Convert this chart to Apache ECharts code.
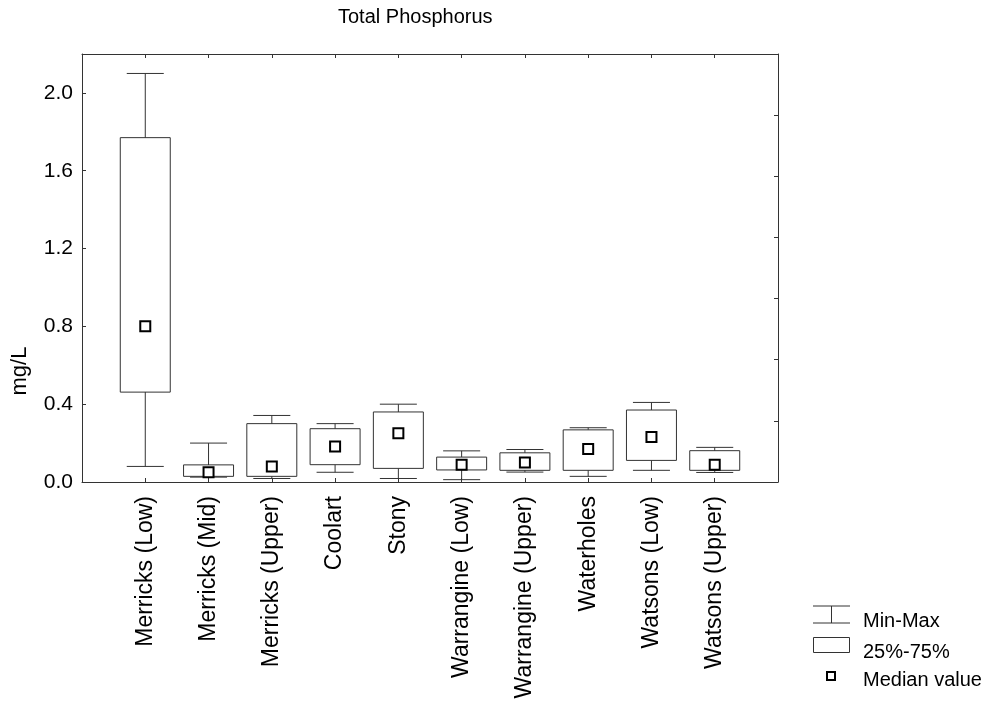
<!DOCTYPE html>
<html>
<head>
<meta charset="utf-8">
<script src="https://cdn.jsdelivr.net/npm/echarts@6/dist/echarts.min.js"></script>
<style>
html,body{margin:0;padding:0;background:#fff;}
#chart{width:991px;height:702px;}
</style>
</head>
<body>
<div id="chart"></div>
<script>
var categories = ['Merricks (Low)','Merricks (Mid)','Merricks (Upper)','Coolart','Stony','Warrangine (Low)','Warrangine (Upper)','Waterholes','Watsons (Low)','Watsons (Upper)'];
var minValues = [0.08, 0.025, 0.018, 0.05, 0.018, 0.012, 0.051, 0.029, 0.06, 0.049];
var q1Values = [0.462, 0.029, 0.029, 0.089, 0.07, 0.062, 0.06, 0.06, 0.111, 0.06];
var medianValues = [0.80, 0.05, 0.08, 0.183, 0.25, 0.089, 0.10, 0.17, 0.231, 0.089];
var q3Values = [1.77, 0.088, 0.30, 0.274, 0.36, 0.128, 0.15, 0.268, 0.37, 0.161];
var maxValues = [2.10, 0.20, 0.342, 0.30, 0.40, 0.16, 0.167, 0.279, 0.409, 0.178];
var yTicks = [0, 0.4, 0.8, 1.2, 1.6, 2.0];

var FONT = "'Liberation Sans', Arial, sans-serif";
var LINE = '#333';

var axisCats = [''].concat(categories).concat(['']);
var data = categories.map(function (c, i) {
  return [i + 1, minValues[i], q1Values[i], medianValues[i], q3Values[i], maxValues[i]];
});

function renderItem(params, api) {
  var x = api.value(0);
  var band = api.size([1, 0])[0];
  var pMin = api.coord([x, api.value(1)]);
  var pQ1 = api.coord([x, api.value(2)]);
  var pMed = api.coord([x, api.value(3)]);
  var pQ3 = api.coord([x, api.value(4)]);
  var pMax = api.coord([x, api.value(5)]);
  var cx = pMin[0];
  var boxW = band * 0.79;
  var capW = band * 0.585;
  var st = {stroke: LINE, lineWidth: 1, fill: null};
  return {
    type: 'group',
    children: [
      {type: 'line', shape: {x1: cx, y1: pMin[1], x2: cx, y2: pMax[1]}, style: st},
      {type: 'line', shape: {x1: cx - capW / 2, y1: pMin[1], x2: cx + capW / 2, y2: pMin[1]}, style: st},
      {type: 'line', shape: {x1: cx - capW / 2, y1: pMax[1], x2: cx + capW / 2, y2: pMax[1]}, style: st},
      {type: 'rect', shape: {x: cx - boxW / 2, y: pQ3[1], width: boxW, height: pQ1[1] - pQ3[1]},
        style: {stroke: LINE, lineWidth: 1, fill: '#fff'}},
      {type: 'rect', shape: {x: cx - 5, y: pMed[1] - 5, width: 10, height: 10},
        style: {stroke: '#000', lineWidth: 2, fill: '#fff'}}
    ]
  };
}

var chart = echarts.init(document.getElementById('chart'));
chart.setOption({
  backgroundColor: '#fff',
  animation: false,
  grid: {left: 82, top: 54, width: 696, height: 428, containLabel: false},
  xAxis: [
    {
      type: 'category', data: axisCats, boundaryGap: false, position: 'bottom',
      axisLine: {onZero: false, lineStyle: {color: LINE, width: 1}},
      axisTick: {inside: true, length: 4, lineStyle: {color: LINE}, interval: 0},
      axisLabel: {rotate: 90, interval: 0, margin: 14, color: '#000', fontSize: 23, fontFamily: FONT},
      splitLine: {show: false}
    },
    {
      type: 'category', data: axisCats, boundaryGap: false, position: 'top',
      axisLine: {onZero: false, lineStyle: {color: LINE, width: 1}},
      axisTick: {inside: true, length: 4, lineStyle: {color: LINE}, interval: 0},
      axisLabel: {show: false},
      splitLine: {show: false}
    }
  ],
  yAxis: [
    {
      type: 'value', min: 0, max: 2.2, interval: 0.4, position: 'left',
      axisLine: {show: true, onZero: false, lineStyle: {color: LINE, width: 1}},
      axisTick: {show: true, inside: true, length: 4, lineStyle: {color: LINE}},
      axisLabel: {
        margin: 9, color: '#000', fontSize: 21, fontFamily: FONT, showMaxLabel: false,
        formatter: function (v) { return yTicks.indexOf(Math.round(v * 10) / 10) >= 0 ? v.toFixed(1) : ''; }
      },
      splitLine: {show: false}
    },
    {
      type: 'value', min: 0, max: 7, interval: 1, position: 'right',
      axisLine: {show: true, onZero: false, lineStyle: {color: LINE, width: 1}},
      axisTick: {show: true, inside: true, length: 4, lineStyle: {color: LINE}},
      axisLabel: {show: false},
      splitLine: {show: false}
    }
  ],
  series: [{
    type: 'custom',
    xAxisIndex: 0, yAxisIndex: 0,
    renderItem: renderItem,
    encode: {x: 0, y: [1, 2, 3, 4, 5]},
    data: data,
    z: 5
  }],
  graphic: [
    {type: 'text', left: 338, top: 7, style: {text: 'Total Phosphorus', fontSize: 20, fontFamily: FONT, fill: '#000'}},
    {type: 'text', x: 20, y: 371, rotation: Math.PI / 2,
      style: {text: 'mg/L', fontSize: 22, fontFamily: FONT, fill: '#000', align: 'center', verticalAlign: 'middle'}},
    // legend
    {type: 'line', shape: {x1: 813, y1: 606, x2: 850, y2: 606}, style: {stroke: LINE, lineWidth: 1}},
    {type: 'line', shape: {x1: 813, y1: 623, x2: 850, y2: 623}, style: {stroke: LINE, lineWidth: 1}},
    {type: 'line', shape: {x1: 831.5, y1: 606, x2: 831.5, y2: 623}, style: {stroke: LINE, lineWidth: 1}},
    {type: 'text', x: 863, y: 621, style: {text: 'Min-Max', fontSize: 20, fontFamily: FONT, fill: '#000', verticalAlign: 'middle'}},
    {type: 'rect', shape: {x: 813.5, y: 637.5, width: 36, height: 15}, style: {stroke: LINE, lineWidth: 1, fill: '#fff'}},
    {type: 'text', x: 863, y: 652, style: {text: '25%-75%', fontSize: 20, fontFamily: FONT, fill: '#000', verticalAlign: 'middle'}},
    {type: 'rect', shape: {x: 827, y: 672, width: 8, height: 8}, style: {stroke: '#000', lineWidth: 2, fill: '#fff'}},
    {type: 'text', x: 863, y: 680, style: {text: 'Median value', fontSize: 20, fontFamily: FONT, fill: '#000', verticalAlign: 'middle'}}
  ]
});
</script>
</body>
</html>
